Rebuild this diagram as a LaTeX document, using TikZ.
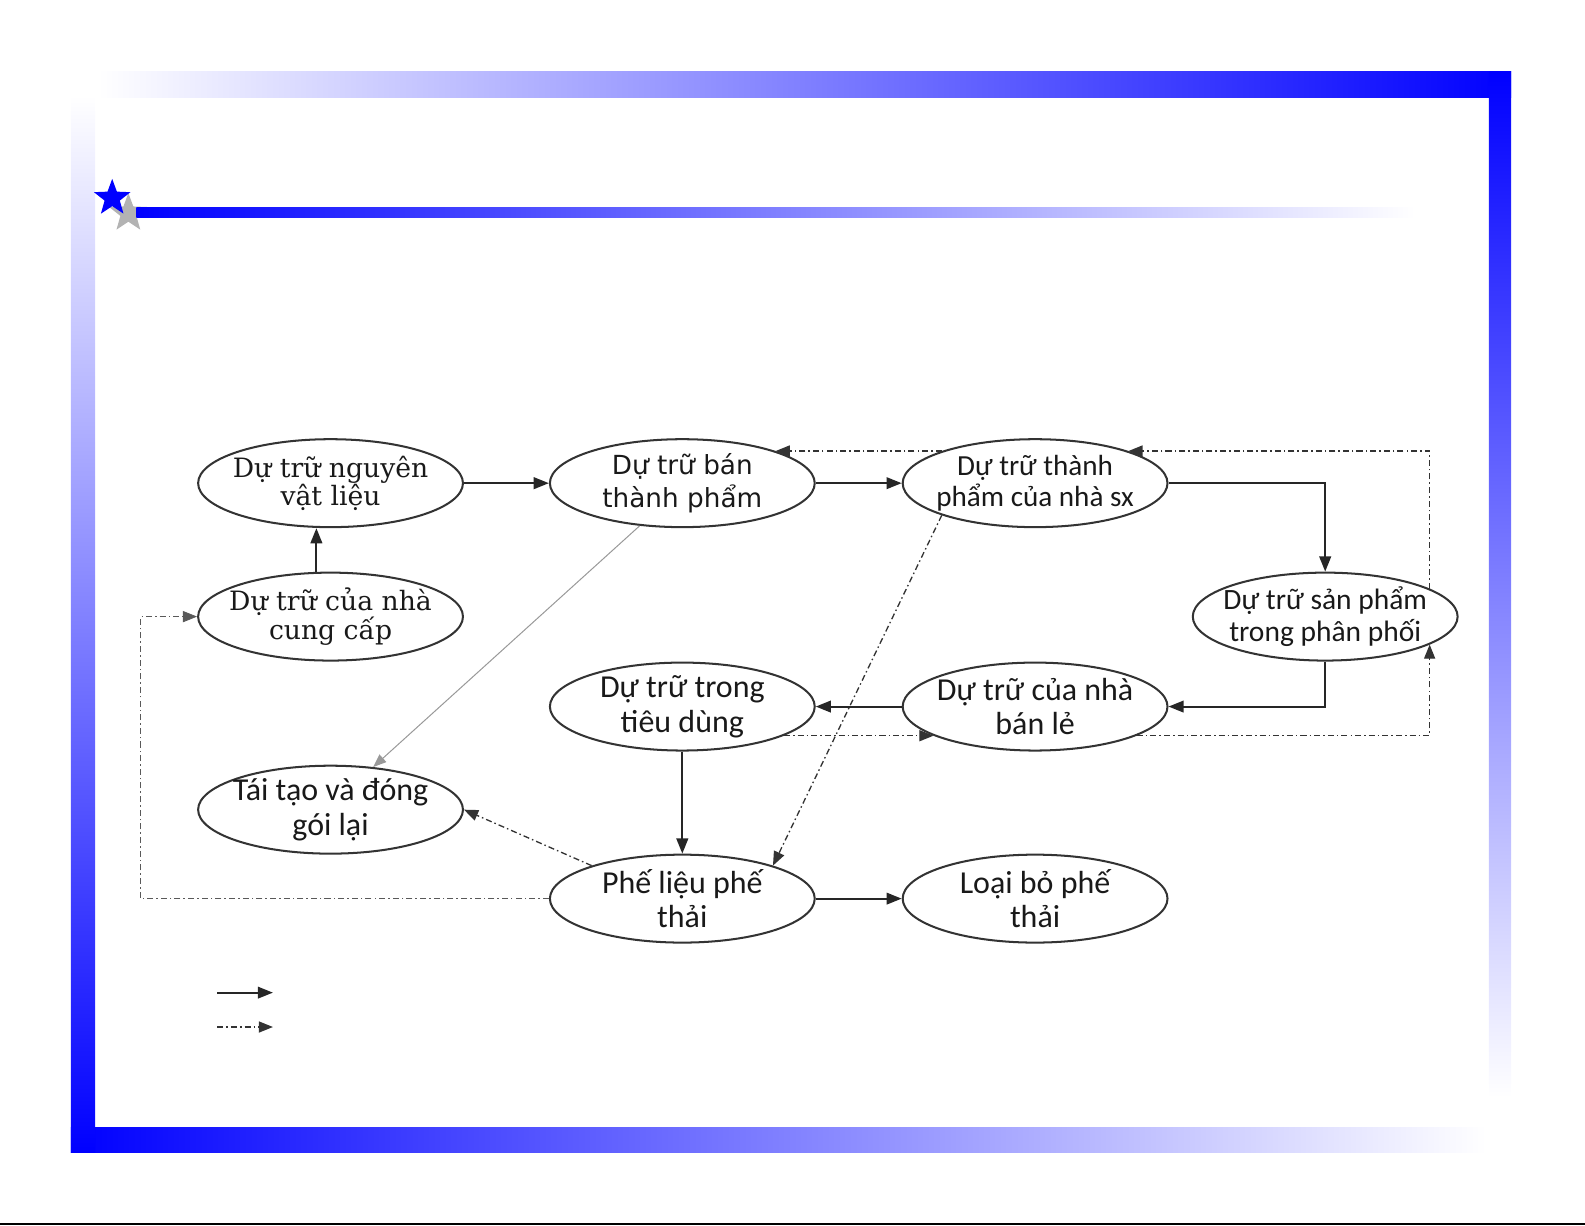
\documentclass[tikz,border=0pt]{standalone}
\usepackage{fontspec}
\setmainfont{Carlito}
\newfontfamily\serifvn{DejaVu Serif}
\newfontfamily\sansvn{DejaVu Sans}
\usetikzlibrary{positioning,arrows.meta,shapes.geometric}

\tikzset{
  kho/.style={ellipse, draw=black!80, line width=0.2mm, minimum width=26.2mm,
    minimum height=8.7mm, inner sep=-4mm, align=center, text=black!90,
    font=\fontsize{9}{9.7}\selectfont},
  lienk/.style={-{Triangle[length=1.5mm,width=1.15mm]}, line width=0.2mm, black!85},
  hoi/.style={-{Triangle[length=1.4mm,width=1.1mm]}, line width=0.13mm, black!80,
    dash pattern=on 0.6mm off 0.3mm on 0.15mm off 0.3mm},
}

\begin{document}
\begin{tikzpicture}[x=0.1mm, y=-0.1mm]
  \useasboundingbox (0,0) rectangle (1568,1212);
  \shade[left color=white, right color=blue] (97,71) rectangle (1495,96);
  \shade[top color=blue, bottom color=white] (1473,71) rectangle (1495,1086);
  \shade[left color=blue, right color=white] (70,1115) rectangle (1470,1140);
  \shade[top color=white, bottom color=blue] (70,95) rectangle (94,1140);

  \node[star, star points=5, star point ratio=2.4, fill=gray!80, opacity=0.75,
    minimum size=4mm, inner sep=0pt] (bong) at (127,211) {};
  \shade[left color=blue, right color=white] (135,205) rectangle (1400,215);
  \node[star, star points=5, star point ratio=2.4, fill=blue,
    minimum size=3.8mm, inner sep=0pt] (sao) at (111,196) {};

  \node[kho, font=\serifvn\fontsize{7.5}{8}\selectfont] (nvl) at (327,478) {Dự trữ nguyên\\vật liệu};
  \node[kho, right=8.4mm of nvl, font=\sansvn\fontsize{7.4}{9.1}\selectfont] (btp) {Dự trữ bán\\thành phẩm};
  \node[kho, right=8.5mm of btp, font=\fontsize{8.2}{8.8}\selectfont] (tpsx) {Dự trữ thành\\phẩm của nhà sx};
  \node[kho, below=4.3mm of nvl, font=\serifvn\fontsize{7.5}{8}\selectfont] (ncc) {Dự trữ của nhà\\cung cấp};
  \node[kho, right=72mm of ncc, font=\fontsize{8.3}{8.9}\selectfont] (sppp) {Dự trữ sản phẩm\\trong phân phối};
  \node[kho, below=13.2mm of btp] (td) {Dự trữ trong\\tiêu dùng};
  \node[kho, right=8.5mm of td] (nbl) {Dự trữ của nhà\\bán lẻ};
  \node[kho, below=10.2mm of ncc] (tt) {Tái tạo và đóng\\gói lại};
  \node[kho, below=10.1mm of td] (pl) {Phế liệu phế\\thải};
  \node[kho, right=8.5mm of pl] (lb) {Loại bỏ phế\\thải};

  \draw[lienk] (nvl) -- (btp);
  \draw[lienk] (btp) -- (tpsx);
  \draw[lienk] ([xshift=-1.4mm]ncc.north) -- ([xshift=-1.4mm]nvl.south);
  \draw[lienk] (tpsx.east) -| (sppp.north);
  \draw[lienk] (sppp.south) |- (nbl.east);
  \draw[lienk] (nbl) -- (td);
  \draw[lienk] (td) -- (pl);
  \draw[lienk] (pl) -- (lb);
  \draw[-{Triangle[length=1.3mm,width=1mm]}, line width=0.1mm, gray!80] (btp.225) -- (tt.45);

  \draw[hoi] (tpsx.161) -- (btp.19);
  \draw[hoi] (sppp.15) |- (tpsx.19);
  \draw[hoi] (td.-16) -- (nbl.196);
  \draw[hoi] (nbl.-16) -| (sppp.-15);
  \draw[hoi] (tpsx.199) -- (pl.20);
  \draw[hoi] (pl.160) -- (tt.east);
  \draw[hoi, line width=0.08mm, black!65] (pl.west) -| ([xshift=-5.6mm]ncc.west) -- (ncc.west);

  \coordinate (lg1) at (215,982);
  \coordinate (lg1e) at (270,982);
  \coordinate (lg2) at (215,1016);
  \coordinate (lg2e) at (270,1016);
  \draw[lienk] (lg1) -- (lg1e);
  \draw[hoi] (lg2) -- (lg2e);

  \draw[line width=0.2mm] (0,1211) -- (1568,1211);
\end{tikzpicture}
\end{document}
